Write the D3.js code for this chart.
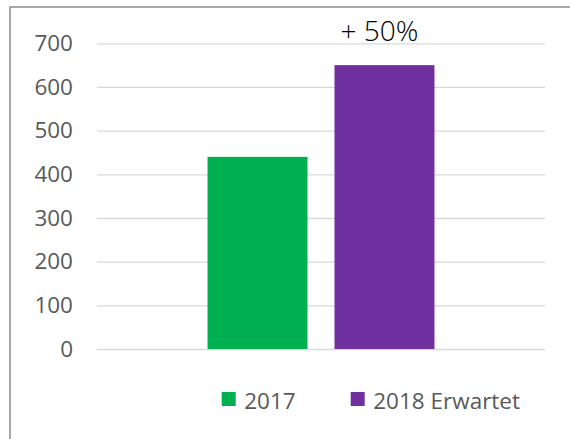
<!DOCTYPE html>
<html>
<head>
<meta charset="utf-8">
<script src="https://cdn.jsdelivr.net/npm/d3@7"></script>
<style>
  body { margin: 0; background: #fff; }
  svg { display: block; font-family: "Open Sans", "DejaVu Sans", sans-serif; }
</style>
</head>
<body>
<div id="chart"></div>
<script>
// Chart data
var categories = [""];
var seriesNames = ["2017", "2018 Erwartet"];
var seriesValues = [440, 650];
var seriesColors = ["#00B050", "#7030A0"];
var yTicks = [0, 100, 200, 300, 400, 500, 600, 700];
var annotation = "+ 50%";

function init() {
    var w = 570;
    var h = 439;

    var svg = d3.select("#chart")
        .append("svg")
        .attr("width", w)
        .attr("height", h);

    // Chart frame (cropped at right and bottom)
    svg.append("path")
        .attr("d", "M10," + h + "V7H" + w)
        .attr("fill", "none")
        .attr("stroke", "#8c8c8c")
        .attr("stroke-width", 1.5);

    // Plot area
    var left = 97, right = 545, top = 43.3, bottom = 349;

    var y = d3.scaleLinear()
        .domain([0, 700])
        .range([bottom, top]);

    // One category, two series side by side
    var x0 = d3.scaleBand()
        .domain(categories)
        .range([left, right])
        .paddingInner(0)
        .paddingOuter(0.487);

    var x1 = d3.scaleBand()
        .domain(seriesNames)
        .range([0, x0.bandwidth()])
        .paddingInner(0.2126)
        .paddingOuter(0);

    // Gridlines + tick labels
    var yAxis = svg.append("g")
        .attr("transform", "translate(" + left + ",0)")
        .call(d3.axisLeft(y)
            .tickValues(yTicks)
            .tickSize(-(right - left))
            .tickPadding(24));

    yAxis.attr("font-family", null).attr("font-size", null);
    yAxis.select(".domain").remove();
    yAxis.selectAll(".tick line")
        .attr("stroke", "#d9d9d9")
        .attr("stroke-width", 1.3);
    yAxis.selectAll(".tick text")
        .attr("fill", "#595959")
        .style("font-size", "22.5px");

    // Bars
    var group = svg.append("g")
        .attr("transform", "translate(" + x0(categories[0]) + ",0)");

    group.selectAll("rect")
        .data(seriesNames)
        .enter()
        .append("rect")
        .attr("x", function (d) { return x1(d); })
        .attr("y", function (d, i) { return y(seriesValues[i]); })
        .attr("width", x1.bandwidth())
        .attr("height", function (d, i) { return bottom - y(seriesValues[i]); })
        .attr("fill", function (d, i) { return seriesColors[i]; });

    // Annotation above the second bar
    svg.append("text")
        .attr("x", x0(categories[0]) + x1(seriesNames[1]) + x1.bandwidth() / 2 - 5)
        .attr("y", 41)
        .attr("text-anchor", "middle")
        .attr("fill", "#000")
        .style("font-size", "28px")
        .style("font-weight", 300)
        .text(annotation);

    // Legend
    var legendX = [221.7, 350.7];
    var legend = svg.selectAll(".legend")
        .data(seriesNames)
        .enter()
        .append("g")
        .attr("class", "legend")
        .attr("transform", function (d, i) { return "translate(" + legendX[i] + ",392)"; });

    legend.append("rect")
        .attr("width", 14)
        .attr("height", 14)
        .attr("fill", function (d, i) { return seriesColors[i]; });

    legend.append("text")
        .attr("x", 22.5)
        .attr("y", 16.5)
        .attr("fill", "#595959")
        .style("font-size", "22.5px")
        .text(function (d) { return d; });
}

window.onload = init;
</script>
</body>
</html>
